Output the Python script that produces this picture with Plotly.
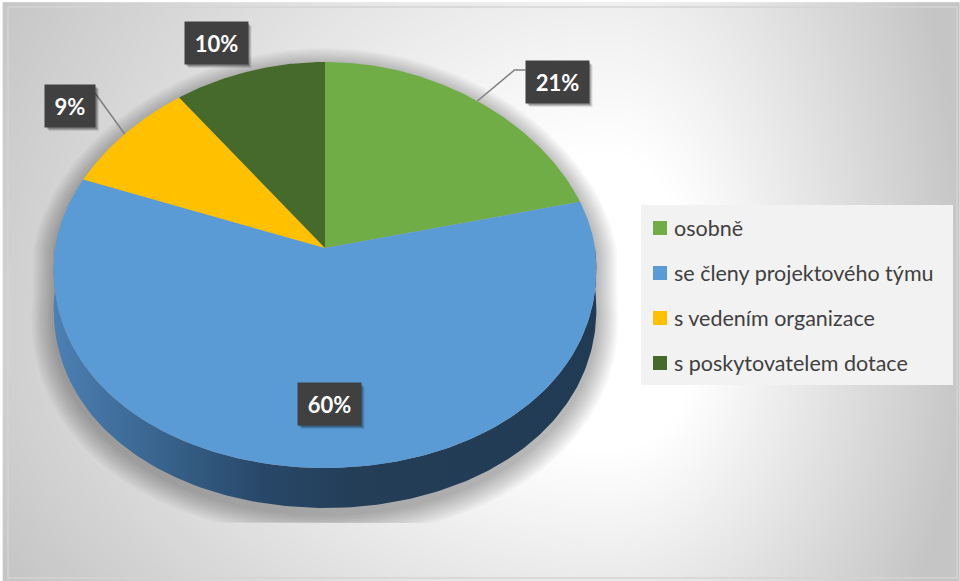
import numpy as np
import plotly.graph_objects as go

# ---- data ----
categories = ["osobně", "se členy projektového týmu", "s vedením organizace", "s poskytovatelem dotace"]
shares = [21, 60, 9, 10]
colors = ["#70ad47", "#5b9bd5", "#ffc000", "#466a2c"]
label_text = [f"{v}%" for v in shares]

# ---- layout constants (pixel space) ----
W, H = 960, 581
CX, CY = 325, 248          # pie centre on screen
RX, RY_FAR, RY_NEAR = 270, 186, 220
DEPTH = 40                 # thickness of the tilted disc
PERSP = 0.1                # far side slightly narrower
FONT = "Lato"

label_pos = [(557, 82), (329, 404), (70, 106), (216, 43)]
has_leader = [True, False, True, False]


def rim(theta_deg, drop=0.0):
    """Point on the top rim for an angle measured clockwise from 12 o'clock."""
    t = np.radians(theta_deg)
    c, s = np.cos(t), np.sin(t)
    x = CX + RX * s * (1 - PERSP * c)
    y = CY - np.where(c > 0, RY_FAR, RY_NEAR) * c + drop
    return x, y


fig = go.Figure()

# ---- chart-area background: soft radial gradient ----
gx = np.linspace(8, 957, 90)
gy = np.linspace(7, 578, 60)
GX, GY = np.meshgrid(gx, gy)
dx = GX - 610
dy = GY - 330
ax = np.where(dx < 0, 700, 360)
ay = np.where(dy < 0, 700, 480)
v = np.sqrt((dx / ax) ** 2 + (dy / ay) ** 2)
z = np.clip((v - 0.25) / 0.75, 0, 1)
fig.add_trace(go.Heatmap(
    x=gx, y=gy, z=z, zmin=0, zmax=1, zsmooth="best",
    colorscale=[[0, "#ffffff"], [1, "#c5c5c5"]],
    showscale=False, hoverinfo="skip",
))

# ---- soft drop shadow under the disc ----
th = np.linspace(0, 360, 361)
sx, sy = rim(th)
near = np.cos(np.radians(th)) < 0
sy = sy + np.where(near, DEPTH, 0)
scx, scy = CX, CY + DEPTH / 2
for e in range(2, 24, 2):
    fx = scx + (sx - scx) * (1 + e / RX)
    fy = scy + (sy - scy) * (1 + e / 230) + 6
    fy = np.minimum(fy, 523)
    fig.add_trace(go.Scatter(
        x=fx, y=fy, mode="lines", fill="toself", line=dict(width=0),
        fillcolor="rgba(0,0,0,0.026)", hoverinfo="skip", showlegend=False,
    ))

# ---- side wall of the disc (front half) ----
ts = np.linspace(90, 270, 181)
tx, ty = rim(ts)
bx, by = rim(ts[::-1], DEPTH)
fig.add_trace(go.Scatter(
    x=np.concatenate([tx, bx]), y=np.concatenate([ty, by]),
    mode="lines", fill="toself", line=dict(width=0),
    fillgradient=dict(
        type="horizontal", start=CX - RX, stop=CX + RX,
        colorscale=[[0, "#4c7fb3"], [0.18, "#3a6690"], [0.38, "#28486a"],
                    [0.55, "#243e58"], [1, "#223b54"]],
    ),
    hoverinfo="skip", showlegend=False,
))

# ---- top face slices ----
total = sum(shares)
bounds = np.concatenate([[0], np.cumsum(shares) / total * 360])
for i, (name, val) in enumerate(zip(categories, shares)):
    a0, a1 = bounds[i], bounds[i + 1]
    ang = np.linspace(a0, a1, max(int(a1 - a0) * 2, 8))
    px, py = rim(ang)
    fig.add_trace(go.Scatter(
        x=np.concatenate([[CX], px, [CX]]), y=np.concatenate([[CY], py, [CY]]),
        mode="lines", fill="toself", line=dict(width=0), fillcolor=colors[i],
        name=name, hovertemplate=f"{name}: {val}%<extra></extra>", showlegend=False,
    ))

# ---- data labels with leader lines ----
shapes = []
annotations = []
for i, txt in enumerate(label_text):
    lx, ly = label_pos[i]
    bw, bh = 13 * len(txt) + 24, 42
    mid = (bounds[i] + bounds[i + 1]) / 2
    ex, ey = rim(mid)
    if has_leader[i]:
        if ex > lx:      # label left of its slice
            path = f"M{lx + bw / 2},{ly - 13} L{float(ex)},{float(ey)}"
        else:
            path = (f"M{lx - bw / 2},{ly - 12} L{lx - bw / 2 - 11},{ly - 12} "
                    f"L{float(ex)},{float(ey)}")
        shapes.append(dict(type="path", path=path, xref="x", yref="y",
                           line=dict(color="#7f7f7f", width=1.5), layer="above"))
    for off, a in [(4, 0.10), (3, 0.15), (2, 0.2)]:
        shapes.append(dict(type="rect", xref="x", yref="y",
                           x0=lx - bw / 2 + off, x1=lx + bw / 2 + off,
                           y0=ly - bh / 2 + off, y1=ly + bh / 2 + off,
                           fillcolor=f"rgba(0,0,0,{a})", line=dict(width=0), layer="above"))
    annotations.append(dict(
        x=lx, y=ly, xref="x", yref="y", text=f"<b>{txt}</b>", showarrow=False,
        width=bw, height=bh, bgcolor="#404040", borderpad=0,
        font=dict(family=FONT, size=22, color="#ffffff"),
        xanchor="center", yanchor="middle", valign="middle",
    ))

# ---- legend panel ----
shapes.append(dict(type="rect", xref="x", yref="y", x0=641, x1=953, y0=205, y1=385,
                   fillcolor="#f2f2f2", line=dict(width=0), layer="above"))
for i, name in enumerate(categories):
    ry = 228 + 45 * i
    shapes.append(dict(type="rect", xref="x", yref="y", x0=653, x1=667, y0=ry - 7, y1=ry + 7,
                       fillcolor=colors[i], line=dict(width=0), layer="above"))
    annotations.append(dict(x=672, y=ry, xref="x", yref="y", text=name, showarrow=False,
                            xanchor="left", yanchor="middle",
                            font=dict(family=FONT, size=21.5, color="#404040")))

# ---- chart-area border ----
shapes.append(dict(type="rect", xref="x", yref="y", x0=8, x1=957, y0=7, y1=578,
                   line=dict(color="#d4d4d4", width=1.5), fillcolor="rgba(0,0,0,0)", layer="above"))

fig.update_layout(
    width=W, height=H, margin=dict(l=0, r=0, t=0, b=0),
    paper_bgcolor="#ffffff", plot_bgcolor="#ffffff",
    xaxis=dict(range=[0, W], visible=False, fixedrange=True),
    yaxis=dict(range=[H, 0], visible=False, fixedrange=True),
    shapes=shapes, annotations=annotations, showlegend=False,
)

fig.write_html("out.html")
